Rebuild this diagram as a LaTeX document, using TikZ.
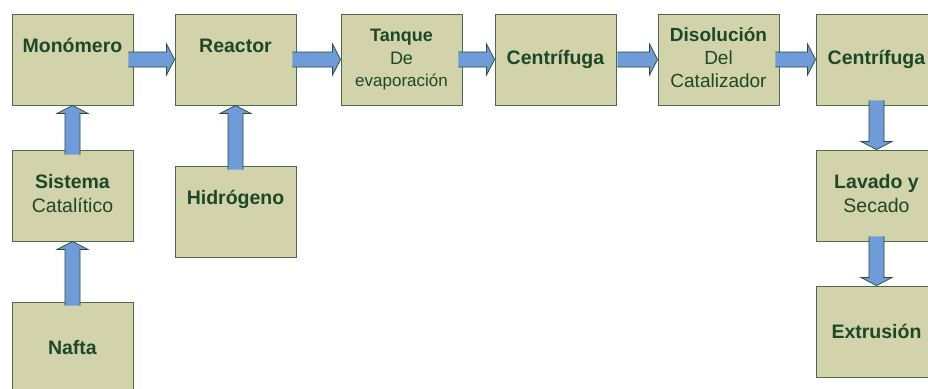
\documentclass[tikz,border=0pt]{standalone}
\usepackage{fontspec}
\setmainfont{Liberation Sans}
\usetikzlibrary{calc}
\definecolor{boxfill}{RGB}{210,211,170}
\definecolor{boxline}{RGB}{74,108,78}
\definecolor{txtcol}{RGB}{28,72,40}
\definecolor{arrfill}{RGB}{111,156,216}
\definecolor{arrline}{RGB}{40,75,50}
\newcommand{\blkarrow}[2]{%
  \coordinate (bA) at #1;
  \coordinate (bB) at #2;
  \coordinate (bH) at ($(bB)!8pt!(bA)$);
  \coordinate (q1) at ($(bA)!7.5pt!90:(bB)$);
  \coordinate (q2) at ($(bH)!7.5pt!-90:(bA)$);
  \coordinate (q3) at ($(bH)!15.5pt!-90:(bA)$);
  \coordinate (q5) at ($(bH)!15.5pt!90:(bA)$);
  \coordinate (q6) at ($(bH)!7.5pt!90:(bA)$);
  \coordinate (q7) at ($(bA)!7.5pt!-90:(bB)$);
  \fill[arrfill] (q1) -- (q2) -- (q3) -- (bB) -- (q5) -- (q6) -- (q7) -- cycle;
  \draw[arrline, line width=0.7pt, line join=miter] (q1) -- (q2) -- (q3) -- (bB) -- (q5) -- (q6) -- (q7);
}
\begin{document}
\begin{tikzpicture}[x=1pt, y=-1pt,
  procbox/.style={draw=boxline, line width=0.9pt, fill=boxfill,
    minimum width=121pt, minimum height=91pt, inner sep=0pt,
    align=center, text=txtcol, font=\fontsize{19.5}{24}\selectfont}]
\clip (0,0) rectangle (928,388);
\fill[white] (0,0) rectangle (928,388);

\node[procbox] (mon) at (72.5,59.5) {\strut\textbf{Monómero}\\\strut};
\node[procbox] (rea) at (235.5,59.5) {\strut\textbf{Reactor}\\\strut};
\node[procbox, font=\fontsize{18}{22.5}\selectfont] (tan) at (401.5,59.5)
  {\strut\textbf{Tanque}\\\strut De\\\strut{\fontsize{17}{22.5}\selectfont evaporación}};
\node[procbox] (cen1) at (555.5,59.5) {\textbf{Centrífuga}};
\node[procbox, font=\fontsize{19}{23}\selectfont] (dis) at (718.5,59.5)
  {\strut\textbf{Disolución}\\\strut Del\\\strut Catalizador};
\node[procbox] (cen2) at (876.5,59.5) {\textbf{Centrífuga}};
\node[procbox] (sis) at (72.5,195.5) {\strut\textbf{Sistema}\\\strut Catalítico};
\node[procbox] (hid) at (235.5,211.5) {\strut\textbf{Hidrógeno}\\\strut};
\node[procbox] (naf) at (72.5,347.5) {\textbf{Nafta}};
\node[procbox] (lav) at (876.5,195.5) {\strut\textbf{Lavado y}\\\strut Secado};
\node[procbox] (ext) at (876.5,331.5) {\textbf{Extrusión}};

\blkarrow{($(mon.east)+(-5,0)$)}{(rea.west)}
\blkarrow{($(rea.east)+(-4,0)$)}{(tan.west)}
\blkarrow{($(tan.east)+(-4,0)$)}{(cen1.west)}
\blkarrow{($(cen1.east)+(1,0)$)}{(dis.west)}
\blkarrow{($(dis.east)+(-4,0)$)}{(cen2.west)}
\blkarrow{($(sis.north)+(0,5)$)}{(mon.south)}
\blkarrow{($(naf.north)+(0,4)$)}{(sis.south)}
\blkarrow{($(hid.north)+(0,4)$)}{(rea.south)}
\blkarrow{($(cen2.south)+(0,-5)$)}{(lav.north)}
\blkarrow{($(lav.south)+(0,-5)$)}{(ext.north)}
\end{tikzpicture}
\end{document}
